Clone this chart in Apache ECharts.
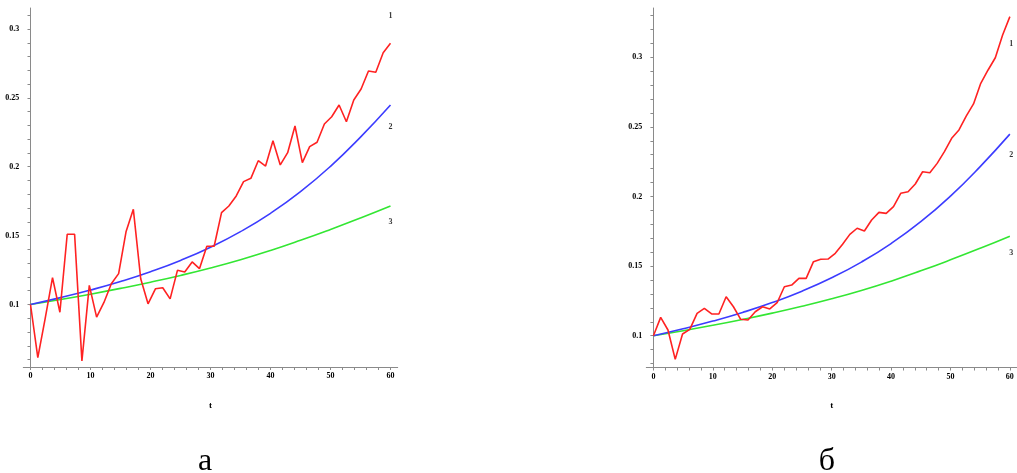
<!DOCTYPE html>
<html>
<head>
<meta charset="utf-8">
<script src="https://cdn.jsdelivr.net/npm/echarts@6/dist/echarts.min.js"></script>
<style>
html,body{margin:0;padding:0;background:#fff;}
#c{width:1017px;height:473px;}
</style>
</head>
<body>
<div id="c"></div>
<script>
// time points of the noisy (red) series
const tRed = [0,1.22,2.45,3.67,4.90,6.12,7.35,8.57,9.80,11.02,12.24,13.47,14.69,15.92,17.14,18.37,19.59,20.82,22.04,23.27,24.49,25.71,26.94,28.16,29.39,30.61,31.84,33.06,34.29,35.51,36.73,37.96,39.18,40.41,41.63,42.86,44.08,45.31,46.53,47.76,48.98,50.20,51.43,52.65,53.88,55.10,56.33,57.55,58.78,60];
// panel a, curve 1
const redA = [0.100,0.0615,0.090,0.1195,0.0944,0.151,0.151,0.059,0.1139,0.0908,
0.1015,0.1151,0.1224,0.1528,0.1691,0.1187,0.1005,0.1114,0.1122,0.1041,
0.1248,0.1236,0.1309,0.126,0.1423,0.1423,0.1667,0.1715,0.1788,0.1892,
0.1916,0.2044,0.2005,0.2189,0.2013,0.2102,0.2296,0.2030,0.2146,0.2178,
0.2310,0.2363,0.2448,0.2327,0.2485,0.2564,0.2695,0.2686,0.2828,0.2896];
// panel b, curve 1
const redB = [0.100,0.1132,0.1041,0.083,0.1012,0.1046,0.1161,0.1197,0.1156,0.1156,
0.128,0.1208,0.1118,0.1113,0.1172,0.1208,0.1192,0.1237,0.1352,0.1364,
0.1412,0.1412,0.1532,0.1549,0.1551,0.1592,0.1657,0.1728,0.1772,0.1752,
0.1831,0.1886,0.1879,0.1927,0.2023,0.2034,0.2090,0.2178,0.2171,0.2238,
0.2322,0.2418,0.2478,0.2578,0.2665,0.2813,0.2909,0.2997,0.3160,0.3292];
// smooth curves 2 and 3 (same in both panels)
const tSmooth = [0,5,10,15,20,25,30,35,40,45,50,55,60];
const blueVals = [0.1000,0.1050,0.1105,0.1167,0.1238,0.1320,0.1416,0.1529,0.1662,0.1819,0.2003,0.2215,0.2448];
const greenVals = [0.1000,0.1036,0.1075,0.1117,0.1162,0.1211,0.1265,0.1325,0.1392,0.1466,0.1545,0.1628,0.1715];
// tick labels
const xLabelsVals = [0,10,20,30,40,50,60];
const yLabelsA = [0.1,0.15,0.2,0.25,0.3];
const yLabelsB = [0.1,0.15,0.2,0.25,0.3];
// curve number annotations [t, y, text]
const notesA = [[60,0.3097,'1'],[60,0.2291,'2'],[60,0.1597,'3']];
const notesB = [[60.25,0.3093,'1'],[60.25,0.2296,'2'],[60.25,0.1592,'3']];
const captions = ['а','б'];

const pairs = (xs, ys) => xs.map((x,i)=>[x, ys[i]]);
const range = (a,b,s) => { const r=[]; for(let v=a; v<=b+1e-9; v+=s) r.push(+v.toFixed(4)); return r; };

const axisColor = '#8a8a8a';
const lblFont = {fontFamily:'Liberation Serif', fontWeight:'bold', fontSize:8, color:'#000'};

function xAx(gi){
  return {
    type:'value', gridIndex:gi, min:-1.2, max:61.2,
    axisLine:{onZero:false, lineStyle:{color:axisColor, width:1}},
    axisTick:{show:true, length:3, customValues:range(0,60,2), lineStyle:{color:axisColor}},
    axisLabel:Object.assign({customValues:xLabelsVals, margin:5}, lblFont),
    splitLine:{show:false},
    name:'t', nameLocation:'middle', nameGap:34,
    nameTextStyle:{fontFamily:'Liberation Serif', fontWeight:'bold', fontSize:9, color:'#000'}
  };
}
function yAx(gi, mn, mx, labels, tickLo, tickHi){
  return {
    type:'value', gridIndex:gi, min:mn, max:mx,
    axisLine:{show:true, onZero:true, lineStyle:{color:axisColor, width:1}},
    axisTick:{show:true, length:3, customValues:range(tickLo,tickHi,0.01), lineStyle:{color:axisColor}},
    axisLabel:Object.assign({customValues:labels, margin:4, formatter:v=>String(+v.toFixed(3))}, lblFont),
    splitLine:{show:false}
  };
}
function lineS(xi, data, color, smooth){
  return {type:'line', xAxisIndex:xi, yAxisIndex:xi, data:data, showSymbol:false, symbol:'none',
    smooth:smooth, lineStyle:{color:color, width:1.6}, silent:true, animation:false, z:3};
}
function noteS(xi, data){
  return {type:'scatter', xAxisIndex:xi, yAxisIndex:xi, data:data, symbolSize:0, silent:true, animation:false,
    label:{show:true, position:'inside', formatter:p=>p.data[2], fontFamily:'Liberation Serif', fontWeight:'bold', fontSize:8, color:'#000'}};
}

const chart = echarts.init(document.getElementById('c'), null, {renderer:'canvas'});
chart.setOption({
  animation:false,
  backgroundColor:'#fff',
  grid:[
    {left:23.3, top:8, width:374.4, height:359},
    {left:646.3, top:8, width:374.4, height:359.5}
  ],
  xAxis:[xAx(0), xAx(1)],
  yAxis:[yAx(0, 0.05463, 0.31524, yLabelsA, 0.06, 0.31), yAx(1, 0.07716, 0.33542, yLabelsB, 0.08, 0.33)],
  series:[
    lineS(0, pairs(tSmooth, greenVals), '#33e633', 0.5),
    lineS(0, pairs(tSmooth, blueVals), '#3c3cff', 0.5),
    lineS(0, pairs(tRed, redA), '#ff2222', false),
    noteS(0, notesA),
    lineS(1, pairs(tSmooth, greenVals), '#33e633', 0.5),
    lineS(1, pairs(tSmooth, blueVals), '#3c3cff', 0.5),
    lineS(1, pairs(tRed, redB), '#ff2222', false),
    noteS(1, notesB)
  ],
  graphic:[
    {type:'text', x:205, y:462, style:{text:captions[0], font:'32px "Liberation Serif"', fill:'#000', textAlign:'center', textVerticalAlign:'middle'}},
    {type:'text', x:827, y:462, style:{text:captions[1], font:'32px "Liberation Serif"', fill:'#000', textAlign:'center', textVerticalAlign:'middle'}}
  ]
});
</script>
</body>
</html>
